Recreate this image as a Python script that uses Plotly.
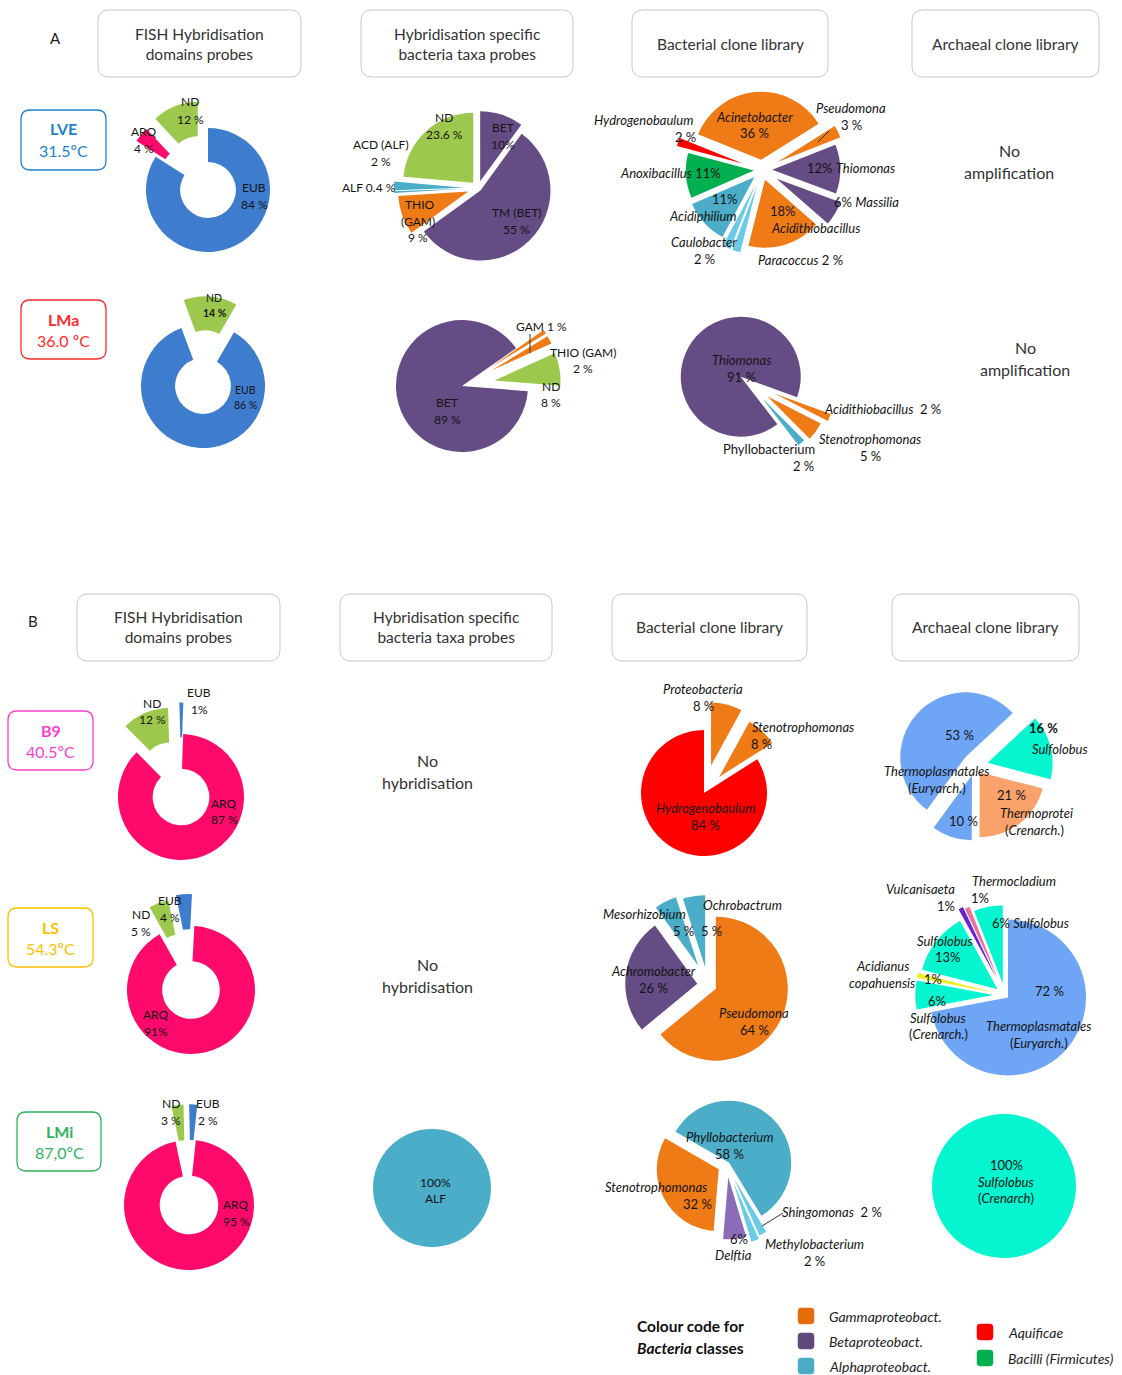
import plotly.graph_objects as go

W, H = 1122, 1375

# ---------------- data ----------------
column_titles = ["FISH Hybridisation<br>domains probes", "Hybridisation specific<br>bacteria taxa probes",
                 "Bacterial clone library", "Archaeal clone library"]
site_names = ["LVE", "LMa", "B9", "LS", "LMi"]
site_temps = ["31.5ºC", "36.0 ºC", "40.5ºC", "54.3ºC", "87,0ºC"]

# Panel A - LVE
lve_fish_labels = ["EUB", "ARQ", "ND"]
lve_fish_values = [84, 4, 12]
lve_taxa_labels = ["BET", "TM (BET)", "THIO (GAM)", "ALF", "ACD (ALF)", "ND"]
lve_taxa_values = [10, 55, 9, 0.4, 2, 23.6]
lve_bact_labels = ["Acinetobacter", "Pseudomona", "Thiomonas", "Massilia", "Acidithiobacillus",
                   "Paracoccus", "Caulobacter", "Acidiphilium", "Anoxibacillus", "Hydrogenobaulum"]
lve_bact_values = [36, 3, 12, 6, 18, 2, 2, 11, 11, 2]
# Panel A - LMa
lma_fish_labels = ["EUB", "ND"]
lma_fish_values = [86, 14]
lma_taxa_labels = ["GAM", "THIO (GAM)", "ND", "BET"]
lma_taxa_values = [1, 2, 8, 89]
lma_bact_labels = ["Acidithiobacillus", "Stenotrophomonas", "Phyllobacterium", "Thiomonas"]
lma_bact_values = [2, 5, 2, 91]
# Panel B - B9
b9_fish_labels = ["ARQ", "ND", "EUB"]
b9_fish_values = [87, 12, 1]
b9_bact_labels = ["Proteobacteria", "Stenotrophomonas", "Hydrogenobaulum"]
b9_bact_values = [8, 8, 84]
b9_arch_labels = ["Sulfolobus", "Thermoprotei (Crenarch.)", "Thermoplasmatales (Euryarch.) II",
                  "Thermoplasmatales (Euryarch.) I"]
b9_arch_values = [16, 21, 10, 53]
# Panel B - LS
ls_fish_labels = ["ARQ", "ND", "EUB"]
ls_fish_values = [91, 5, 4]
ls_bact_labels = ["Pseudomona", "Achromobacter", "Mesorhizobium", "Ochrobactrum"]
ls_bact_values = [64, 26, 5, 5]
ls_arch_labels = ["Thermoplasmatales (Euryarch.)", "Sulfolobus (Crenarch.)", "Acidianus copahuensis",
                  "Sulfolobus 13%", "Vulcanisaeta", "Thermocladium", "Sulfolobus 6%"]
ls_arch_values = [72, 6, 1, 13, 1, 1, 6]
# Panel B - LMi
lmi_fish_labels = ["ARQ", "ND", "EUB"]
lmi_fish_values = [95, 3, 2]
lmi_taxa_labels = ["ALF"]
lmi_taxa_values = [100]
lmi_bact_labels = ["Phyllobacterium", "Shingomonas", "Methylobacterium", "Delftia", "Stenotrophomonas"]
lmi_bact_values = [58, 2, 2, 6, 32]
lmi_arch_labels = ["Sulfolobus (Crenarch)"]
lmi_arch_values = [100]

legend_classes = ["Gammaproteobact.", "Betaproteobact.", "Alphaproteobact.", "Aquificae", "Bacilli (Firmicutes)"]

# ---------------- styles ----------------
FONT = "Lato, 'Open Sans', sans-serif"
TXT = "#141414"
C_EUB = "#3e7ccd"
C_ND = "#9dc84e"
C_ARQ = "#fe0a6c"
C_PUR = "#654c84"
C_ORA = "#ef7b16"
C_CYA = "#4badc8"
C_LCY = "#6bcbe6"
C_GRN = "#00b050"
C_RED = "#ff0000"
C_ABL = "#6fa5f5"
C_AQU = "#04f5cf"
C_SAL = "#f9a26c"
C_VIO = "#6a22d4"
C_PNK = "#e8739a"
C_YEL = "#eeee22"
C_LPU = "#8a6cb8"
legend_colors = ["#e46c0a", "#5f497a", "#4bacc6", "#ff0000", "#00b050"]
site_colors = ["#2181cf", "#ff2a2a", "#fb3fcb", "#ffc000", "#2fb35f"]

S_HEAD = 15.5   # header boxes
S_NOTE = 16     # "No hybridisation" / "No amplification"
S_FISH = 12     # domain-probe donut labels
S_TAXA = 12     # taxa-probe labels
S_CLONE = 13    # clone library labels


def pc(v, sp=True):
    return f"{v:g} %" if sp else f"{v:g}%"


def px(x):
    return x / W


def py(y):
    return 1 - y / H


fig = go.Figure()
annotations = []
shapes = []


def T(x, y, text, size=S_CLONE, color=TXT, anchor="center"):
    annotations.append(dict(x=px(x), y=py(y), xref="paper", yref="paper", text=text, showarrow=False,
                            xanchor=anchor, yanchor="middle",
                            font=dict(family=FONT, size=size, color=color)))


def line(x0, y0, x1, y1, color="#333", w=1):
    shapes.append(dict(type="line", xref="paper", yref="paper", x0=px(x0), y0=py(y0), x1=px(x1), y1=py(y1),
                       line=dict(color=color, width=w)))


def rrect(x0, y0, x1, y1, rad, color, w=1, fill="rgba(0,0,0,0)"):
    def P(x, y):
        return f"{px(x):.5f},{py(y):.5f}"
    path = (f"M {P(x0 + rad, y0)} L {P(x1 - rad, y0)} Q {P(x1, y0)} {P(x1, y0 + rad)} "
            f"L {P(x1, y1 - rad)} Q {P(x1, y1)} {P(x1 - rad, y1)} L {P(x0 + rad, y1)} "
            f"Q {P(x0, y1)} {P(x0, y1 - rad)} L {P(x0, y0 + rad)} Q {P(x0, y0)} {P(x0 + rad, y0)} Z")
    shapes.append(dict(type="path", xref="paper", yref="paper", path=path,
                       line=dict(color=color, width=w), fillcolor=fill))


def pie(labels, values, colors, cx, cy, r, rotation=0, pull=None, hole=0):
    if pull is None:
        pull = [0] * len(values)
    R = r * (1 + max(pull))
    fig.add_trace(go.Pie(labels=labels, values=values, sort=False, direction="clockwise",
                         rotation=rotation, pull=pull, hole=hole, textinfo="none",
                         hoverinfo="label+percent", showlegend=False,
                         marker=dict(colors=colors, line=dict(width=0)),
                         domain=dict(x=[px(cx - R), px(cx + R)], y=[py(cy + R), py(cy - R)])))


# ---------------- header boxes ----------------
hdrA = [(98, 301), (361, 573), (632, 828), (912, 1099)]
hdrB = [(77, 280), (340, 552), (612, 807), (892, 1079)]
for (x0, x1), t in zip(hdrA, column_titles):
    rrect(x0, 10, x1, 77, 11, "#c8c8c8")
    T((x0 + x1) / 2, 43.5, t, size=S_HEAD, color="#333")
for (x0, x1), t in zip(hdrB, column_titles):
    rrect(x0, 594, x1, 661, 11, "#c8c8c8")
    T((x0 + x1) / 2, 627.5, t, size=S_HEAD, color="#333")
T(55, 38, "A", size=15, color="#222")
T(33, 621, "B", size=15, color="#222")

# ---------------- site boxes ----------------
site_boxes = [(21, 110, 106, 170), (21, 300, 106, 359), (8, 711, 93, 770), (8, 908, 93, 967), (17, 1112, 101, 1171)]
for (x0, y0, x1, y1), n, t, c in zip(site_boxes, site_names, site_temps, site_colors):
    rrect(x0, y0, x1, y1, 9, c, w=1.3)
    T((x0 + x1) / 2, y0 + 19, f"<b>{n}</b>", size=16, color=c)
    T((x0 + x1) / 2, y0 + 40, t, size=16, color=c)

# ---------------- row LVE ----------------
pie(lve_fish_labels, lve_fish_values, [C_EUB, C_ARQ, C_ND], 208, 190, 62, 0, [0, 0.4, 0.45], hole=0.45)
v = lve_fish_values
T(190, 102, "ND", S_FISH); T(190, 119, pc(v[2]), S_FISH)
T(144, 131, "ARQ", S_FISH); T(144, 148, pc(v[1]), S_FISH)
T(254, 187, "EUB", S_FISH); T(254, 204, pc(v[0]), S_FISH)

pie(lve_taxa_labels, lve_taxa_values, [C_PUR, C_PUR, C_ORA, C_CYA, C_CYA, C_ND], 478, 188, 70, 0,
    [0.1, 0.05, 0.15, 0.2, 0.2, 0.1])
v = lve_taxa_values
T(444, 118, "ND", S_TAXA); T(444, 134, pc(v[5]), S_TAXA)
T(503, 127, "BET", S_TAXA); T(503, 144, pc(v[0], False), S_TAXA)
T(381, 144, "ACD (ALF)", S_TAXA); T(381, 161, pc(v[4]), S_TAXA)
T(369, 187, "ALF " + pc(v[3]), S_TAXA)
T(420, 205, "THIO", S_TAXA); T(418, 221, "(GAM)", S_TAXA); T(418, 238, pc(v[2]), S_TAXA)
T(516, 213, "TM (BET)", S_TAXA); T(516, 230, pc(v[1]), S_TAXA)

pie(lve_bact_labels, lve_bact_values, [C_ORA, C_ORA, C_PUR, C_PUR, C_ORA, C_LCY, C_LCY, C_CYA, C_GRN, C_RED],
    762, 170, 68, -68, [0.15, 0.25, 0.15, 0.25, 0.15, 0.25, 0.25, 0.15, 0.12, 0.3])
v = lve_bact_values
T(643, 120, "<i>Hydrogenobaulum</i>"); T(685, 137, pc(v[9]))
T(754, 117, "<i>Acinetobacter</i>"); T(754, 133, pc(v[0]))
T(851, 108, "<i>Pseudomona</i>"); T(851, 125, pc(v[1]))
line(829, 131, 818, 142)
T(851, 168, pc(v[2], False) + " <i>Thiomonas</i>")
T(866, 202, pc(v[3], False) + " <i>Massilia</i>")
T(783, 211, pc(v[4], False)); T(815, 228, "<i>Acidithiobacillus</i>")
T(800, 260, "<i>Paracoccus</i> " + pc(v[5]))
T(704, 242, "<i>Caulobacter</i>"); T(704, 259, pc(v[6]))
T(725, 199, pc(v[7], False)); T(703, 216, "<i>Acidiphilium</i>")
T(670, 173, "<i>Anoxibacillus</i> " + pc(v[8], False))

T(1009, 150, "No", S_NOTE, "#333"); T(1009, 172, "amplification", S_NOTE, "#333")

# ---------------- row LMa ----------------
pie(lma_fish_labels, lma_fish_values, [C_EUB, C_ND], 203, 386, 62, 30, [0, 0.45], hole=0.45)
v = lma_fish_values
T(214, 298, "ND", 10.5); T(215, 313, "<b>" + pc(v[1]) + "</b>", 10.5)
T(245, 390, "EUB", 10.5); T(245, 405, pc(v[0]), 10.5)

pie(lma_taxa_labels, lma_taxa_values, [C_ORA, C_ORA, C_ND, C_PUR], 462, 386, 66, 55, [0.5, 0.5, 0.5, 0])
v = lma_taxa_values
T(541, 326, "GAM " + pc(v[0]), S_TAXA); line(530, 334, 530, 353)
T(583, 352, "THIO (GAM)", S_TAXA); T(583, 368, pc(v[1]), S_TAXA)
T(551, 386, "ND", S_TAXA); T(551, 402, pc(v[2]), S_TAXA)
T(447, 402, "BET", S_TAXA); T(447, 419, pc(v[3]), S_TAXA)

pie(lma_bact_labels, lma_bact_values, [C_ORA, C_ORA, C_CYA, C_PUR], 748, 382, 60, 110, [0.48, 0.4, 0.35, 0.15])
v = lma_bact_values
T(741, 360, "<i>Thiomonas</i>"); T(741, 377, pc(v[3]))
T(882, 409, "<i>Acidithiobacillus</i>  " + pc(v[0]))
T(870, 439, "<i>Stenotrophomonas</i>"); T(870, 456, pc(v[1]))
T(769, 449, "Phyllobacterium"); T(803, 466, pc(v[2]))

T(1025, 348, "No", S_NOTE, "#333"); T(1025, 370, "amplification", S_NOTE, "#333")

# ---------------- row B9 ----------------
pie(b9_fish_labels, b9_fish_values, [C_ARQ, C_ND, C_EUB], 181, 797, 63, 2, [0, 0.45, 0.5], hole=0.45)
v = b9_fish_values
T(152, 703, "ND", S_FISH); T(152, 719, pc(v[1]), S_FISH)
T(199, 692, "EUB", S_FISH); T(199, 709, pc(v[2], False), S_FISH)
T(224, 803, "ARQ", S_FISH); T(224, 820, pc(v[0]), S_FISH)

T(427, 760, "No", S_NOTE, "#333"); T(427, 782, "hybridisation", S_NOTE, "#333")

pie(b9_bact_labels, b9_bact_values, [C_ORA, C_ORA, C_RED], 704, 793, 63, 0, [0.45, 0.35, 0])
v = b9_bact_values
T(703, 689, "<i>Proteobacteria</i>"); T(703, 706, pc(v[0]))
T(803, 727, "<i>Stenotrophomonas</i>"); T(761, 744, pc(v[1]))
T(705, 808, "<i>Hydrogenobaulum</i>"); T(705, 825, pc(v[2]))

pie(b9_arch_labels, b9_arch_values, [C_AQU, C_SAL, C_ABL, C_ABL], 975, 766, 65, 47, [0.2, 0.12, 0.15, 0.2])
v = b9_arch_values
T(959, 735, pc(v[3]))
T(1043, 728, "<b>" + pc(v[0]) + "</b>"); T(1060, 749, "<i>Sulfolobus</i>")
T(937, 771, "<i>Thermoplasmatales</i>"); T(937, 788, "(<i>Euryarch.</i>)")
T(1011, 795, pc(v[1])); T(1036, 813, "<i>Thermoprotei</i>"); T(1034, 830, "(<i>Crenarch.</i>)")
T(963, 821, pc(v[2]))

# ---------------- row LS ----------------
pie(ls_fish_labels, ls_fish_values, [C_ARQ, C_ND, C_EUB], 191, 990, 64, 3, [0, 0.45, 0.5], hole=0.45)
v = ls_fish_values
T(141, 914, "ND", S_FISH); T(141, 931, pc(v[1]), S_FISH)
T(170, 901, "EUB", S_FISH); T(170, 918, pc(v[2]), S_FISH)
T(156, 1014, "ARQ", S_FISH); T(156, 1031, pc(v[0], False), S_FISH)

T(427, 964, "No", S_NOTE, "#333"); T(427, 986, "hybridisation", S_NOTE, "#333")

pie(ls_bact_labels, ls_bact_values, [C_ORA, C_PUR, C_CYA, C_CYA], 708, 985, 72, 0, [0.12, 0.15, 0.3, 0.25])
v = ls_bact_values
T(644, 914, "<i>Mesorhizobium</i>"); T(683, 931, pc(v[2]))
T(742, 905, "<i>Ochrobactrum</i>"); T(712, 931, pc(v[3]))
T(653, 971, "<i>Achromobacter</i>"); T(653, 988, pc(v[1]))
T(754, 1013, "<i>Pseudomona</i>"); T(754, 1030, pc(v[0]))

pie(ls_arch_labels, ls_arch_values, [C_ABL, C_AQU, C_YEL, C_AQU, C_VIO, C_PNK, C_AQU], 1005, 995, 78, 0,
    [0.05, 0.15, 0.15, 0.12, 0.25, 0.22, 0.15])
v = ls_arch_values
T(1014, 881, "<i>Thermocladium</i>"); T(980, 898, pc(v[5], False))
T(920, 889, "<i>Vulcanisaeta</i>"); T(946, 906, pc(v[4], False))
T(1030, 923, pc(v[6], False) + " <i>Sulfolobus</i>")
T(945, 941, "<i>Sulfolobus</i>"); T(948, 957, pc(v[3], False))
T(882, 966, "<i>Acidianus</i>"); T(882, 983, "<i>copahuensis</i>")
T(933, 979, pc(v[2], False))
T(937, 1001, pc(v[1], False)); T(938, 1018, "<i>Sulfolobus</i>"); T(938, 1034, "(<i>Crenarch.</i>)")
T(1049, 991, pc(v[0]))
T(1039, 1026, "<i>Thermoplasmatales</i>"); T(1039, 1043, "(<i>Euryarch.</i>)")

# ---------------- row LMi ----------------
pie(lmi_fish_labels, lmi_fish_values, [C_ARQ, C_ND, C_EUB], 189, 1205, 65, 6, [0, 0.55, 0.55], hole=0.45)
v = lmi_fish_values
T(171, 1103, "ND", S_FISH); T(171, 1120, pc(v[1]), S_FISH)
T(208, 1103, "EUB", S_FISH); T(208, 1120, pc(v[2]), S_FISH)
T(236, 1204, "ARQ", S_FISH); T(236, 1221, pc(v[0]), S_FISH)

pie(lmi_taxa_labels, lmi_taxa_values, [C_CYA], 432, 1188, 59)
T(435, 1182, pc(lmi_taxa_values[0], False), S_TAXA); T(435, 1198, "ALF", S_TAXA)

pie(lmi_bact_labels, lmi_bact_values, [C_CYA, C_LCY, C_LCY, C_LPU, C_ORA], 727, 1165, 62, -60,
    [0.05, 0.25, 0.3, 0.2, 0.15])
v = lmi_bact_values
T(729, 1137, "<i>Phyllobacterium</i>"); T(729, 1154, pc(v[0]))
T(656, 1187, "<i>Stenotrophomonas</i>"); T(697, 1204, pc(v[4]))
T(832, 1212, "<i>Shingomonas</i>  " + pc(v[1])); line(783, 1213, 762, 1226)
T(739, 1239, pc(v[3], False)); T(733, 1255, "<i>Delftia</i>")
T(814, 1244, "<i>Methylobacterium</i>"); T(814, 1261, pc(v[2]))

pie(lmi_arch_labels, lmi_arch_values, [C_AQU], 1004, 1186, 72)
T(1006, 1165, pc(lmi_arch_values[0], False)); T(1006, 1182, "<i>Sulfolobus</i>"); T(1006, 1198, "(<i>Crenarch</i>)")

# ---------------- colour legend ----------------
T(690, 1326, "<b>Colour code for</b>", 15.5, "#111")
T(690, 1348, "<b><i>Bacteria</i> classes</b>", 15.5, "#111")
leg_pos = [(798, 1316), (798, 1341), (798, 1366), (977, 1332), (977, 1358)]
for (lx, ly), name, col in zip(leg_pos, legend_classes, legend_colors):
    rrect(lx, ly - 8, lx + 16, ly + 8, 3, col, w=0.5, fill=col)
    T(lx + 29, ly, f"<i>{name}</i>", 14, "#222", anchor="left")

fig.update_layout(width=W, height=H, margin=dict(l=0, r=0, t=0, b=0),
                  paper_bgcolor="white", plot_bgcolor="white",
                  annotations=annotations, shapes=shapes,
                  font=dict(family=FONT, color=TXT))
fig.write_html("out.html")
